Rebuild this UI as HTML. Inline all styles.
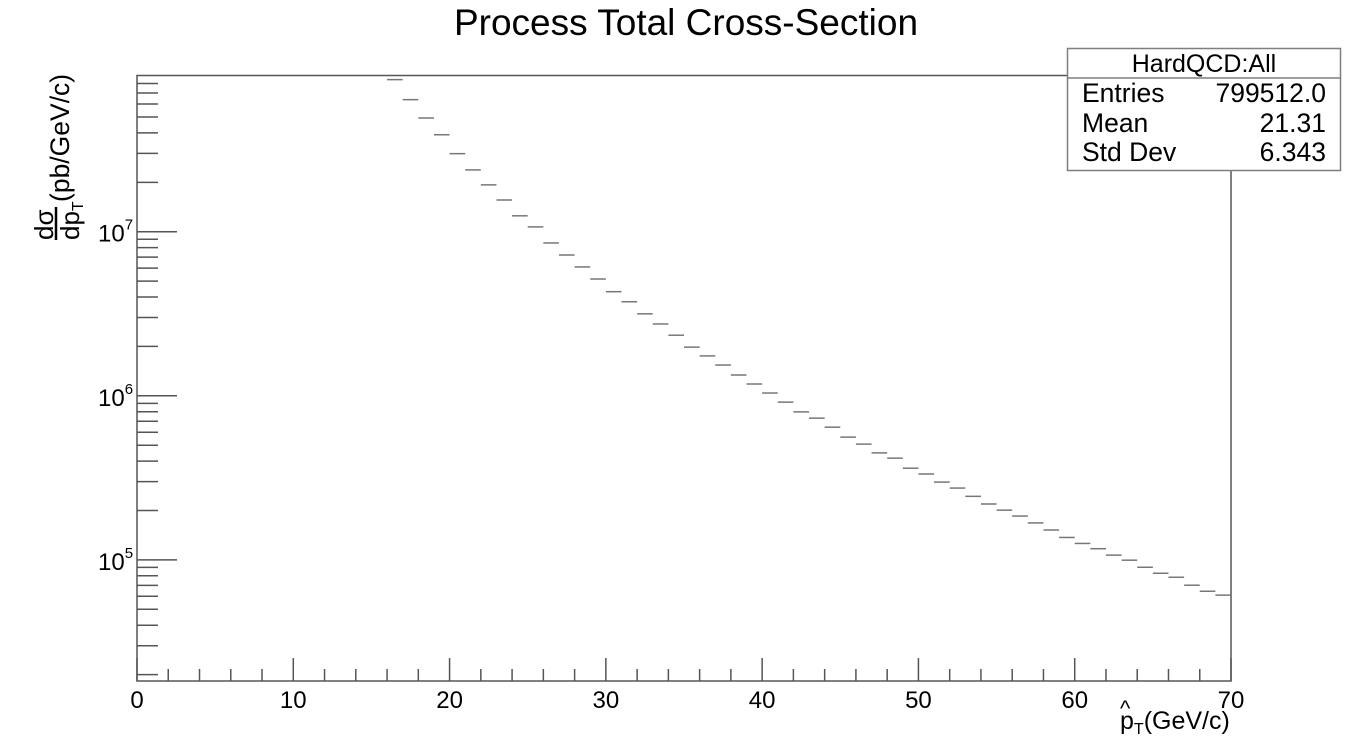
<!DOCTYPE html>
<html><head><meta charset="utf-8"><style>
body{margin:0;background:#fff;}
svg{display:block;font-family:"Liberation Sans",Arial,sans-serif;}
</style></head><body>
<svg id="chart" width="1368" height="756">
<rect width="1368" height="756" fill="#fff"/>
<text x="686" y="35" font-size="37" text-anchor="middle">Process Total Cross-Section</text>
<g id="axes"></g>
<g id="bars"></g>
<g>
<rect x="1067.5" y="48.5" width="273" height="122" fill="#fff" stroke="#7f7f7f" stroke-width="1.5"/>
<line x1="1067" y1="78" x2="1341" y2="78" stroke="#7f7f7f" stroke-width="1.5"/>
<text x="1204" y="72" font-size="25" text-anchor="middle">HardQCD:All</text>
<text x="1082" y="102" font-size="26.5">Entries</text>
<text x="1326" y="102" font-size="26.5" text-anchor="end">799512.0</text>
<text x="1082" y="132" font-size="26.5">Mean</text>
<text x="1326" y="132" font-size="26.5" text-anchor="end">21.31</text>
<text x="1082" y="161" font-size="26.5">Std Dev</text>
<text x="1326" y="161" font-size="26.5" text-anchor="end">6.343</text>
</g>
<g transform="translate(53,240) rotate(-90)">
<text x="0" y="0" font-size="26">dσ</text>
<line x1="0" y1="3" x2="33" y2="3" stroke="#000" stroke-width="2.5"/>
<text x="0" y="26" font-size="26">dp<tspan font-size="16" dy="4">T</tspan></text>
<text x="38" y="16" font-size="26.5">(pb/GeV/c)</text>
</g>
<g>
<text x="1120" y="729" font-size="25">p<tspan font-size="16" dy="5">T</tspan><tspan dy="-5">(GeV/c)</tspan></text>
<text x="1120" y="716" font-size="22">^</text>
</g>
</svg>
<script>
const binLow=[16,17,18,19,20,21,22,23,24,25,26,27,28,29,30,31,32,33,34,35,36,37,38,39,40,41,42,43,44,45,46,47,48,49,50,51,52,53,54,55,56,57,58,59,60,61,62,63,64,65,66,67,68,69];
const binValues=[8.45e7,6.38e7,4.93e7,3.90e7,2.99e7,2.38e7,1.93e7,1.56e7,1.25e7,1.07e7,8.54e6,7.21e6,6.10e6,5.15e6,4.31e6,3.74e6,3.16e6,2.74e6,2.34e6,1.98e6,1.75e6,1.54e6,1.34e6,1.18e6,1.04e6,9.15e5,7.98e5,7.31e5,6.44e5,5.60e5,5.08e5,4.49e5,4.17e5,3.62e5,3.34e5,2.98e5,2.74e5,2.44e5,2.19e5,2.01e5,1.85e5,1.68e5,1.52e5,1.37e5,1.26e5,1.17e5,1.07e5,9.96e4,9.02e4,8.29e4,7.84e4,7.01e4,6.44e4,6.10e4];
const xTicks=[0,10,20,30,40,50,60,70];
const yDecades=[5,6,7];
const X0=137,X1=1231,Y0=681,Y1=75.5;
const xMin=0,xMax=70,yLogMin=4.262,yLogMax=7.952;
const NS="http://www.w3.org/2000/svg";
function sx(v){return X0+(v-xMin)/(xMax-xMin)*(X1-X0);}
function sy(v){return Y0-(Math.log10(v)-yLogMin)/(yLogMax-yLogMin)*(Y0-Y1);}
function mk(tag,attrs,parent){const e=document.createElementNS(NS,tag);for(const k in attrs)e.setAttribute(k,attrs[k]);parent.appendChild(e);return e;}
const axes=document.getElementById('axes');
const frame=mk('rect',{x:X0,y:Y1,width:X1-X0,height:Y0-Y1,fill:'none',stroke:'#555','stroke-width':1.5},axes);


for(let v=xMin;v<=xMax;v+=2){
  const major=v%10===0;
  const t=mk('line',{x1:sx(v),x2:sx(v),y1:Y0,y2:Y0-(major?23:12),stroke:'#555','stroke-width':1.5},axes);
  
  
}
xTicks.forEach(v=>{
  const t=mk('text',{x:sx(v),y:Y0+27,'font-size':24,'text-anchor':'middle'},axes);
  t.textContent=String(v);
  
  
});
for(let d=4;d<=7;d++){
  for(let m=1;m<=9;m++){
    const v=m*Math.pow(10,d);
    const lv=Math.log10(v);
    if(lv<yLogMin||lv>yLogMax)continue;
    const y=sy(v);
    const t=mk('line',{x1:X0,x2:X0+(m===1?40:21),y1:y,y2:y,stroke:'#555','stroke-width':1.5},axes);
    
    
  }
}
yDecades.forEach(d=>{
  const y=sy(Math.pow(10,d));
  const t=mk('text',{x:98,y:y+10,'font-size':24},axes);
  t.innerHTML='10<tspan font-size="15" dy="-12">'+d+'</tspan>';
  
  
});
const bars=document.getElementById('bars');
binLow.forEach((b,i)=>{
  const y=sy(binValues[i]);
  const l=mk('line',{x1:sx(b),x2:sx(b+1),y1:y,y2:y,stroke:'#777','stroke-width':1.5},bars);
  
  
});
</script>
</body></html>
